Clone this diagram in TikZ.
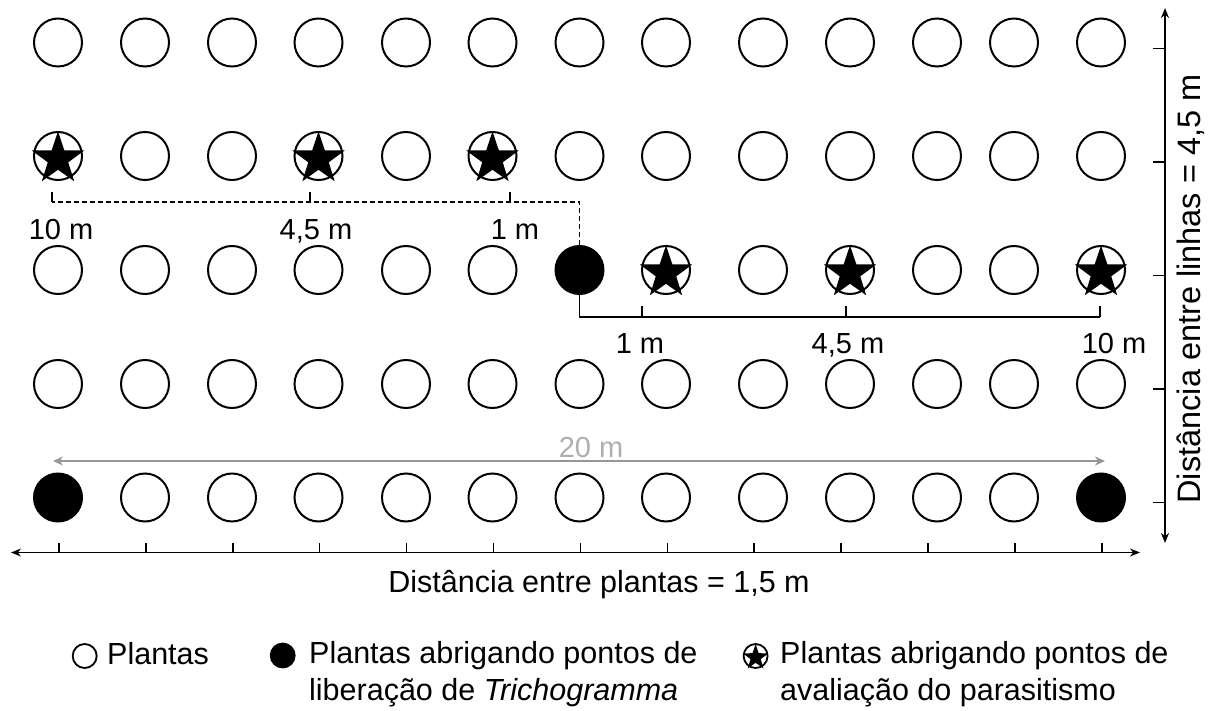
\documentclass[tikz,border=0pt]{standalone}
\usepackage{fontspec}
\setmainfont{Liberation Sans}
\usetikzlibrary{shapes.geometric,arrows.meta}
\begin{document}
\begin{tikzpicture}[x=1pt,y=-1pt,
  plant/.style={circle,draw=black,line width=2pt,minimum size=48pt,inner sep=0pt},
  smallplant/.style={circle,draw=black,line width=1.8pt,minimum size=24pt,inner sep=0pt},
  evalstar/.style={star,star points=5,star point ratio=2.55,fill=black,minimum size=55pt,inner sep=0pt},
  smallstar/.style={star,star points=5,star point ratio=2.55,fill=black,minimum size=27pt,inner sep=0pt},
  lbl/.style={font=\fontsize{29}{35}\selectfont,anchor=base,inner sep=0pt},
  legendtxt/.style={font=\fontsize{30.5}{37}\selectfont,inner sep=0pt},
  axistxt/.style={font=\fontsize{30.5}{37}\selectfont,inner sep=0pt,anchor=base},
  axisline/.style={line width=1.5pt,black,>={Stealth[length=10pt,width=8pt]},<->},
  ticks/.style={line width=1.5pt,black},
  grayarrow/.style={line width=1.4pt,draw={rgb,255:red,150;green,150;blue,150},
    >={Stealth[length=10pt,width=9pt]},<->},
  dashline/.style={line width=1.3pt,dash pattern=on 5pt off 3pt},
  solidline/.style={line width=1.5pt}]
\fill[white] (0,0) rectangle (1209,711);
\path[use as bounding box] (0,0) rectangle (1209,711);

% grid of plants
\foreach \c/\x in {1/58,2/145,3/232,4/318.5,5/406,6/492.5,7/579.5,8/666,9/763,10/850,11/937,12/1014,13/1101}{
  \foreach \r/\y in {1/42.5,2/156,3/270,4/384,5/497.5}{
    \pgfmathtruncatemacro\isrel{((\r==3)&&(\c==7))||((\r==5)&&((\c==1)||(\c==13))) ? 1 : 0}
    \ifnum\isrel=1 \def\fc{black}\else\def\fc{white}\fi
    \node[plant,fill=\fc] (c-\r-\c) at (\x,\y) {};
  }
}
% evaluation points (stars)
\foreach \p in {2-1,2-4,2-6,3-8,3-10,3-13}{
  \node[evalstar,yshift=-3pt] (s-\p) at (c-\p) {};
}

% dashed distance line (left)
\coordinate (dcorner) at (579.5,202);
\coordinate (dend) at (52,202);
\draw[dashline] (c-3-7.north) -- (dcorner) -- (dend);
\coordinate (dt1) at (52,202); \coordinate (dt1u) at (52,192);
\coordinate (dt2) at (310,202); \coordinate (dt2u) at (310,192);
\coordinate (dt3) at (510,202); \coordinate (dt3u) at (510,192);
\draw[line width=1.3pt] (dt1) -- (dt1u) (dt2) -- (dt2u) (dt3) -- (dt3u);
\node[lbl] (l10a) at (61,240) {10 m};
\node[lbl] (l45a) at (316,240) {4,5 m};
\node[lbl] (l1a) at (515,240) {1 m};

% solid distance line (right)
\coordinate (scorner) at (579.5,317);
\coordinate (send) at (1100,317);
\draw[solidline] (c-3-7.south) -- (scorner) -- (send);
\coordinate (st1) at (642,317); \coordinate (st1u) at (642,306);
\coordinate (st2) at (846,317); \coordinate (st2u) at (846,306);
\coordinate (st3u) at (1100,306);
\draw[solidline] (st1) -- (st1u) (st2) -- (st2u) (send) -- (st3u);
\node[lbl] (l1b) at (640,353) {1 m};
\node[lbl] (l45b) at (848,353) {4,5 m};
\node[lbl] (l10b) at (1114,353) {10 m};

% 20 m gray arrow
\coordinate (gl) at (53,461);
\coordinate (gr) at (1105,461);
\draw[grayarrow] (gl) -- (gr);
\node[lbl,text={rgb,255:red,175;green,175;blue,175}] (l20) at (591,457) {20 m};

% horizontal axis
\coordinate (hl) at (11,552.5);
\coordinate (hr) at (1140,552.5);
\draw[axisline] (hl) -- (hr);
\foreach \i in {0,...,12}{
  \draw[ticks] ({59+86.9*\i},552.5) -- ++(0,-10);
}
\node[axistxt] (hlab) at (599,592) {Distância entre plantas = 1,5 m};

% vertical axis
\coordinate (vt) at (1165,8);
\coordinate (vb) at (1165,543);
\draw[axisline] (vt) -- (vb);
\foreach \y in {48.3,162,275.5,389,502.5}{
  \draw[ticks] (1165,\y) -- (1153,\y);
}
\node[axistxt,rotate=90,font=\fontsize{32.5}{38}\selectfont] (vlab) at (1200,289) {Distância entre linhas = 4,5 m};

% legend
\node[smallplant] (lg1) at (84.7,656) {};
\node[legendtxt,anchor=base west] (lt1) at (107,664) {Plantas};
\node[smallplant,fill=black] (lg2) at (282.7,655.5) {};
\node[legendtxt,anchor=north west,align=left] (lt2) at (309,641) {Plantas abrigando pontos de\\liberação de \textit{Trichogramma}};
\node[smallplant] (lg3) at (755.6,656) {};
\node[smallstar,yshift=-1.5pt] (lg3s) at (lg3) {};
\node[legendtxt,anchor=north west,align=left] (lt3) at (780,641) {Plantas abrigando pontos de\\avaliação do parasitismo};
\end{tikzpicture}
\end{document}
